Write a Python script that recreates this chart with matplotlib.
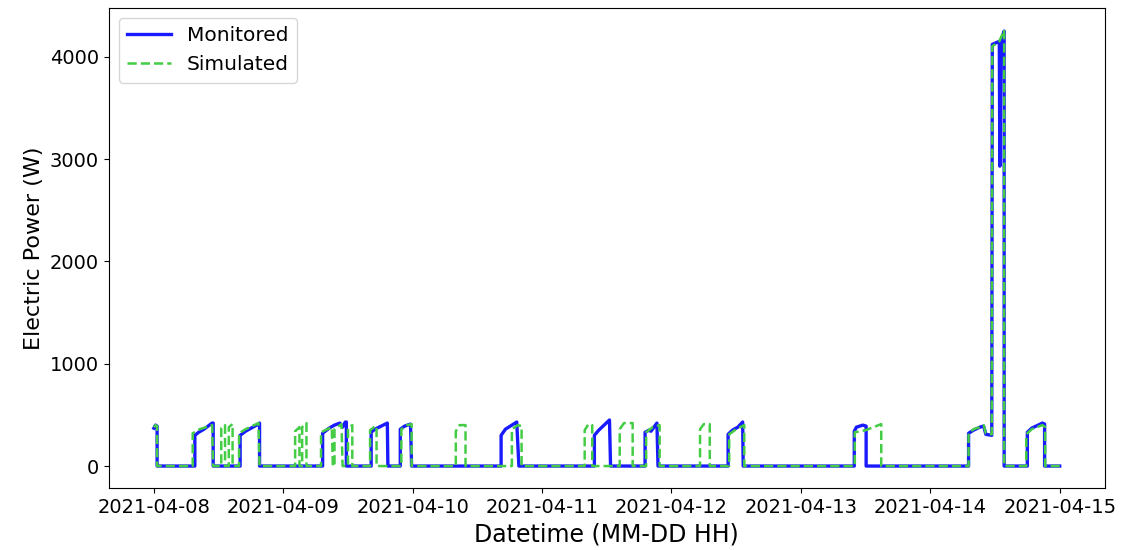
import numpy as np
import pandas as pd
import matplotlib
matplotlib.use('Agg')
import matplotlib.pyplot as plt
import matplotlib.dates as mdates

# hours since 2021-04-08 00:00 and electric power [W]
start = pd.Timestamp('2021-04-08 00:00')

mon_hours = [
    0, 0.3, 0.6, 0.6,
    7.6, 7.6, 8.3, 9.3, 10.8, 11.0, 11.0,
    16.0, 16.0, 17.0, 19.4, 19.6, 19.6,
    31.3, 31.3, 32.5, 33.5, 34.5, 35.0, 35.5, 35.7, 35.7,
    40.3, 40.3, 41.0, 43.3, 43.4,
    45.7, 45.7, 46.5, 47.6, 47.8,
    64.4, 64.4, 65.2, 67.3, 67.7,
    81.7, 81.7, 82.5, 84.5, 84.7,
    91.1, 91.1, 91.8, 92.2, 93.3, 93.5,
    106.5, 106.5, 107.3, 108.3, 109.2, 109.3,
    129.9, 129.9, 130.3, 131.5, 132.1, 132.1,
    151.1, 151.1, 152.0, 153.2, 153.9, 154.3, 155.4, 155.5, 156.8, 156.9, 157.1, 157.7, 157.7,
    162.0, 162.0, 162.8, 164.8, 165.2, 165.2, 168.0,
]
mon_watts = [
    370, 400, 390, 0,
    0, 300, 330, 360, 420, 420, 0,
    0, 300, 340, 410, 420, 0,
    0, 320, 370, 400, 420, 380, 430, 430, 0,
    0, 330, 360, 420, 0,
    0, 360, 390, 410, 0,
    0, 300, 360, 430, 0,
    0, 300, 350, 450, 0,
    0, 330, 350, 340, 420, 0,
    0, 310, 350, 380, 430, 0,
    0, 340, 380, 400, 390, 0,
    0, 320, 350, 380, 390, 310, 300, 4120, 4150, 2930, 4150, 4250, 0,
    0, 330, 370, 420, 410, 0, 0,
]

sim_hours = [
    0, 0.3, 0.6, 0.6,
    7.2, 7.2, 8.5, 10.8, 11.0,
    12.5, 12.5, 13.2, 13.2, 13.9, 13.9, 14.6, 14.6,
    15.8, 15.8, 17.0, 19.4, 19.6,
    26.2, 26.2, 27.0, 27.0, 27.5, 27.5, 28.3, 28.3,
    31.0, 31.0, 33.0, 33.2, 33.5, 33.5, 34.8, 35.0, 36.0, 36.0, 36.8, 36.8,
    40.1, 40.1, 40.8, 41.3, 41.3,
    45.9, 45.9, 47.0, 47.8, 47.8,
    56.0, 56.0, 56.7, 57.8, 57.8,
    66.4, 66.4, 67.5, 68.2, 68.2,
    79.9, 79.9, 80.6, 81.3, 81.3,
    86.4, 86.4, 87.2, 88.8, 88.8,
    91.3, 91.3, 92.5, 93.8, 93.8,
    101.3, 101.3, 102.0, 103.1, 103.1,
    106.7, 106.7, 108.0, 109.5, 109.5,
    130.0, 130.0, 132.0, 134.9, 134.9,
    151.1, 151.1, 152.0, 153.2, 153.9, 154.3, 155.4, 155.5, 156.8, 157.7, 157.7,
    161.8, 161.8, 162.8, 164.8, 165.3, 165.3, 168.0,
]
sim_watts = [
    380, 400, 390, 0,
    0, 320, 360, 400, 0,
    0, 370, 400, 0, 0, 380, 410, 0,
    0, 320, 360, 420, 0,
    0, 340, 380, 0, 0, 380, 420, 0,
    0, 330, 380, 0, 0, 360, 410, 0, 0, 370, 400, 0,
    0, 350, 380, 390, 0,
    0, 360, 400, 410, 0,
    0, 340, 400, 400, 0,
    0, 360, 400, 390, 0,
    0, 350, 410, 400, 0,
    0, 360, 420, 420, 0,
    0, 330, 380, 400, 0,
    0, 360, 410, 410, 0,
    0, 310, 360, 400, 0,
    0, 330, 350, 410, 0,
    0, 320, 360, 380, 400, 320, 310, 4100, 4150, 4260, 0,
    0, 310, 360, 400, 380, 0, 0,
]

mon_time = start + pd.to_timedelta(mon_hours, unit='h')
sim_time = start + pd.to_timedelta(sim_hours, unit='h')

fig = plt.figure(figsize=(11.31, 5.5), dpi=100)
ax = fig.add_axes([0.096, 0.113, 0.881, 0.872])

ax.plot(mon_time, mon_watts, color='#1a1aff', linewidth=2.4, label='Monitored')
ax.plot(sim_time, sim_watts, color='#44cc44', linewidth=1.8, linestyle='--', label='Simulated')

ax.xaxis.set_major_locator(mdates.DayLocator())
ax.xaxis.set_major_formatter(mdates.DateFormatter('%Y-%m-%d'))
ax.tick_params(labelsize=14)
ax.set_xlabel('Datetime (MM-DD HH)', fontsize=17)
ax.set_ylabel('Electric Power (W)', fontsize=16)
ax.legend(loc='upper left', fontsize=14.5, handlelength=2.2)

fig.savefig('out.png', dpi=100)
